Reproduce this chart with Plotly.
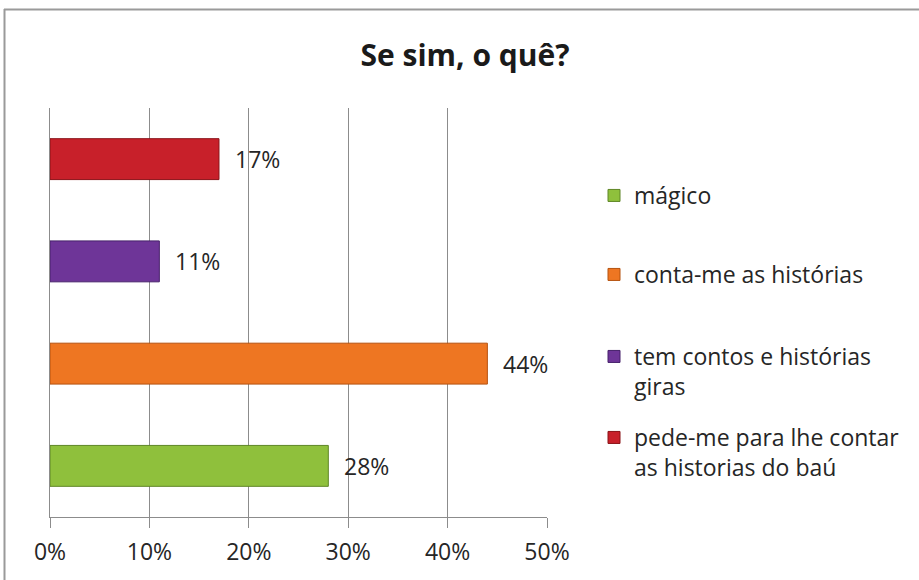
import plotly.graph_objects as go

# Survey answers (bottom to top) and their shares in percent
categories = [
    "mágico",
    "conta-me as histórias",
    "tem contos e histórias giras",
    "pede-me para lhe contar as historias do baú",
]
legend_labels = [
    "mágico",
    "conta-me as histórias",
    "tem contos e histórias<br>giras",
    "pede-me para lhe contar<br>as historias do baú",
]
values = [28, 44, 11, 17]
colors = ["#8FC03C", "#EE7622", "#6E3598", "#C8202A"]
edge_colors = ["#5F8626", "#B5520F", "#46206A", "#8A1217"]

W, H = 919, 580
L, R, T, B = 50, 547, 108, 517  # plot area in pixels

FONT = "Open Sans"
TEXT = "#262626"

fig = go.Figure()

legend_names = ["legend", "legend2", "legend3", "legend4"]
legend_tops = [174, 253, 335, 416]  # pixel top of each legend block

for i, (cat, val) in enumerate(zip(categories, values)):
    fig.add_trace(go.Bar(
        y=[cat], x=[val], orientation="h",
        name=legend_labels[i],
        marker=dict(color=colors[i], line=dict(color=edge_colors[i], width=1)),
        width=0.4,
        legend=legend_names[i],
        hoverinfo="skip",
    ))
    # value label to the right of each bar
    fig.add_annotation(
        x=val, y=cat, text=f"{val}%", showarrow=False,
        xanchor="left", xshift=14,
        font=dict(family=FONT, size=23, color=TEXT),
    )

layout_legends = {}
for i, name in enumerate(legend_names):
    layout_legends[name] = dict(
        x=594 / W, y=1 - legend_tops[i] / H,
        xref="container", yref="container",
        xanchor="left", yanchor="top",
        bgcolor="rgba(0,0,0,0)",
        font=dict(family=FONT, size=23, color=TEXT),
        valign="top",
        itemwidth=30,
    )

# chart frame: top and left edges
def px_x(p):
    return (p - L) / (R - L)

def px_y(p):
    return (B - p) / (B - T)

frame = "#9A9A9A"
fig.add_shape(type="line", xref="paper", yref="paper",
              x0=px_x(4), x1=px_x(W + 5), y0=px_y(9.5), y1=px_y(9.5),
              line=dict(color=frame, width=2))
fig.add_shape(type="line", xref="paper", yref="paper",
              x0=px_x(4.5), x1=px_x(4.5), y0=px_y(9), y1=px_y(H + 5),
              line=dict(color=frame, width=2))

fig.update_layout(
    width=W, height=H,
    margin=dict(l=L, r=W - R, t=T, b=H - B),
    paper_bgcolor="white", plot_bgcolor="white",
    title=dict(
        text="<b>Se sim, o quê?</b>",
        x=465 / W, xanchor="center", y=1 - 55 / H, yanchor="middle",
        font=dict(family=FONT, size=30, color="#1A1A1A"),
    ),
    barmode="overlay",
    showlegend=True,
    **layout_legends,
)

fig.update_xaxes(
    range=[0, 50], tickvals=[0, 10, 20, 30, 40, 50],
    ticktext=["0%", "10%", "20%", "30%", "40%", "50%"],
    showgrid=True, gridcolor="#8C8C8C", gridwidth=1,
    showline=True, linecolor="#8C8C8C", linewidth=1,
    ticks="outside", ticklen=10, tickcolor="#8C8C8C",
    ticklabelstandoff=4,
    tickfont=dict(family=FONT, size=23, color=TEXT),
    zeroline=False, fixedrange=True,
)
fig.update_yaxes(
    categoryorder="array", categoryarray=categories,
    range=[-0.5, 3.5], showticklabels=False,
    showline=True, linecolor="#8C8C8C", linewidth=1,
    showgrid=False, zeroline=False, fixedrange=True,
)

fig.write_html("out.html")
